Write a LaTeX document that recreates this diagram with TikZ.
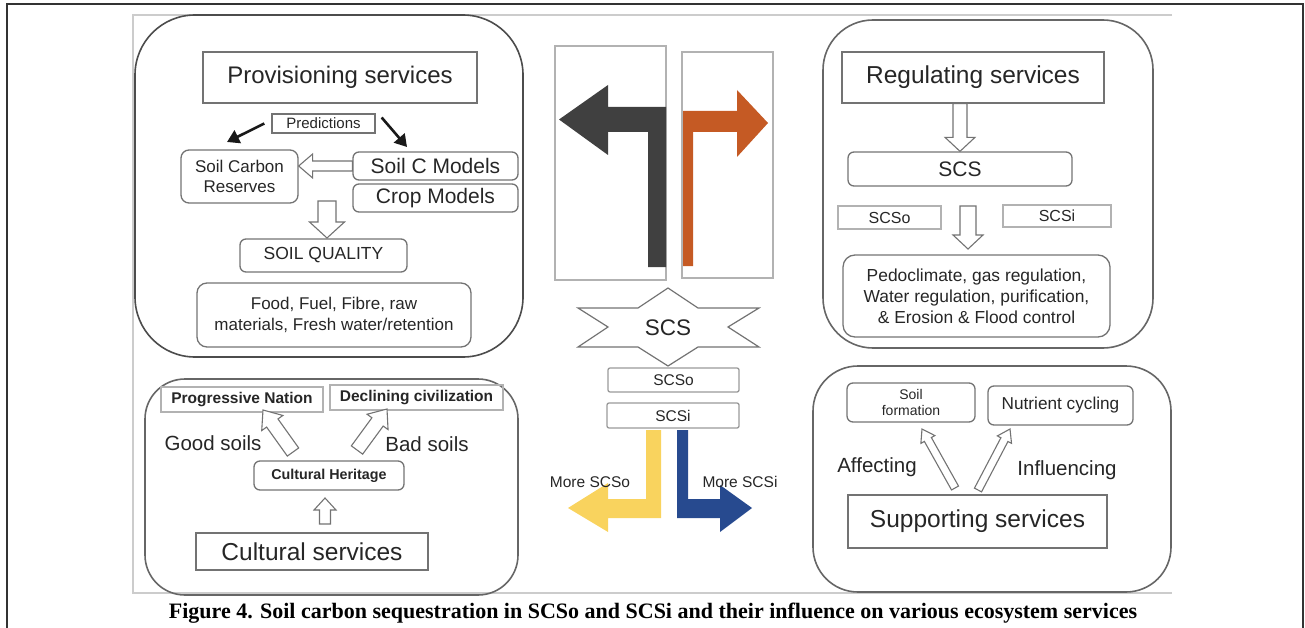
\documentclass[tikz,border=0pt]{standalone}
\usepackage{fontspec}
\setmainfont{Liberation Sans}
\newfontfamily\capfont{Liberation Serif}
\usetikzlibrary{calc,arrows.meta}
\definecolor{darkarr}{HTML}{404040}
\definecolor{orangearr}{HTML}{C55A24}
\definecolor{yellowarr}{HTML}{F9D35E}
\definecolor{bluearr}{HTML}{274A8F}
\tikzset{
	panel/.style={draw=black!60, line width=1.6pt},
	box/.style={draw=black!55, line width=1.3pt, text=black!85, align=center, inner sep=0pt},
	rbox/.style={box, rounded corners=6pt},
	lbl/.style={text=black!85, inner sep=0pt, align=center},
	hollow/.style={draw=black!55, line width=1.1pt, fill=white, line join=miter},
	blk/.style={draw=black!90, line width=2.6pt, -{Triangle[length=12pt,width=14pt]}},
}
% hollow block arrow: from, to, half shaft, half head, head length
\newcommand{\hollowarr}[5]{%
	\coordinate (ha-c) at ($(#2)!#5!(#1)$);
	\draw[hollow] ($(#1)!#3!90:(#2)$) -- ($(ha-c)!#3!-90:(#1)$) -- ($(ha-c)!#4!-90:(#1)$) -- (#2)
		-- ($(ha-c)!#4!90:(#1)$) -- ($(ha-c)!#3!90:(#1)$) -- ($(#1)!#3!-90:(#2)$) -- cycle;}
\begin{document}
\begin{tikzpicture}[x=1pt, y=-1pt]
	\useasboundingbox (0,0) rectangle (1305,628);
	\draw[black!80, line width=1.5pt] (7,628) -- (7,4) -- (1303,4) -- (1303,628);
	\draw[black!20, line width=1.5pt] (1172,15) -- (133,15) -- (133,593) -- (1172,593);
	
	% provisioning
	\draw[panel, draw=black!70, rounded corners=60pt] (135,15) rectangle (523,357);
	\node[box, minimum width=274pt, minimum height=51pt, font=\fontsize{24}{28}\selectfont] (prov) at (340,77.5) {Provisioning services};
	\node[box, minimum width=103pt, minimum height=19pt, font=\fontsize{15}{18}\selectfont] (pred) at (323.5,123.5) {Predictions};
	\node[rbox, rounded corners=8pt, minimum width=117pt, minimum height=53pt, font=\fontsize{17}{20}\selectfont] (scr) at (239.5,176.5) {Soil Carbon\\Reserves};
	\node[rbox, minimum width=165pt, minimum height=28pt, font=\fontsize{21}{24}\selectfont] (scm) at (435.5,166) {Soil C Models};
	\node[rbox, minimum width=165pt, minimum height=28pt, font=\fontsize{21}{24}\selectfont] (crop) at (435.5,198) {Crop Models};
	\node[rbox, minimum width=167pt, minimum height=33pt, font=\fontsize{17.5}{20}\selectfont] (soilq) at (323.5,255.5) {SOIL QUALITY};
	\node[rbox, rounded corners=10pt, minimum width=274pt, minimum height=64pt, font=\fontsize{17}{21}\selectfont] (food) at (334,315) {Food, Fuel, Fibre, raw\\materials, Fresh water/retention};
	\coordinate (p1) at (227,142);
	\coordinate (p2) at (407,147);
	\draw[blk] ([xshift=-7pt]pred.west) -- (p1);
	\draw[blk] ([xshift=6pt,yshift=6pt]pred.east) -- (p2);
	\hollowarr{scm.west}{scr.east |- scm.west}{5pt}{12pt}{14pt}
	\coordinate (q1) at (327,201);
	\coordinate (q2) at (327,238);
	\hollowarr{q1}{q2}{9pt}{17.5pt}{16pt}
	
	% centre
	\node[box, draw=black!30, minimum width=111pt, minimum height=234pt] (lrect) at (610.5,163) {};
	\node[box, draw=black!30, minimum width=91pt, minimum height=226pt] (rrect) at (727.5,165) {};
	\fill[darkarr] (666,267) -- (648,267) -- (648,132) -- (608,132) -- (608,155) -- (559,119.5) -- (608,85) -- (608,107) -- (666,107) -- cycle;
	\fill[orangearr] (683,266) -- (693,266) -- (693,132) -- (737,132) -- (737,157) -- (768,123) -- (737,90) -- (737,111) -- (683,111) -- cycle;
	\draw[draw=black!55, line width=1.2pt, fill=white] (668,288) -- (698,308) -- (759,308) -- (728,327) -- (759,347) -- (698,347) -- (668,366) -- (638,347) -- (578,347) -- (608,327) -- (578,308) -- (638,308) -- cycle;
	\node[lbl, font=\fontsize{22.5}{26}\selectfont] (scs) at (668,328) {SCS};
	\node[rbox, rounded corners=2pt, draw=black!40, minimum width=131pt, minimum height=24pt, font=\fontsize{15.5}{18}\selectfont] (scso) at (673.5,380) {SCSo};
	\node[rbox, rounded corners=2pt, draw=black!40, minimum width=132pt, minimum height=25pt, font=\fontsize{15.5}{18}\selectfont] (scsi) at (673,415.5) {SCSi};
	\fill[yellowarr] (646,430) -- (661,430) -- (661,518) -- (608,518) -- (608,532) -- (568,508) -- (608,483) -- (608,499) -- (646,499) -- cycle;
	\fill[bluearr] (677,430) -- (688,430) -- (688,499) -- (720,499) -- (720,485) -- (752,508) -- (720,532) -- (720,518) -- (677,518) -- cycle;
	\node[lbl, font=\fontsize{15.5}{18}\selectfont] (morso) at (590,482) {More SCSo};
	\node[lbl, font=\fontsize{15.5}{18}\selectfont] (morsi) at (740,482) {More SCSi};
	
	% regulating
	\draw[panel, rounded corners=50pt] (823,20) rectangle (1153,348);
	\node[box, minimum width=262pt, minimum height=51pt, font=\fontsize{24.5}{28}\selectfont] (reg) at (973,77.5) {Regulating services};
	\node[rbox, minimum width=224pt, minimum height=34pt, font=\fontsize{21}{24}\selectfont] (scs2) at (960,169) {SCS};
	\node[box, draw=black!30, minimum width=103pt, minimum height=23pt, font=\fontsize{16}{18}\selectfont] (scso2) at (889.5,217.5) {SCSo};
	\node[box, draw=black!30, minimum width=108pt, minimum height=22pt, font=\fontsize{16}{18}\selectfont] (scsi2) at (1057,216) {SCSi};
	\node[rbox, rounded corners=12pt, minimum width=267pt, minimum height=82pt, font=\fontsize{17.4}{21}\selectfont] (pedo) at (976.5,296) {Pedoclimate, gas regulation,\\Water regulation, purification,\\\& Erosion \& Flood control};
	\hollowarr{reg.south -| scs2.north}{scs2.north}{7pt}{15pt}{14pt}
	\coordinate (r1) at (968,206);
	\coordinate (r2) at (968,249);
	\hollowarr{r1}{r2}{8pt}{15pt}{14pt}
	
	% cultural
	\draw[panel, rounded corners=40pt] (145,379) rectangle (518,595);
	\node[box, draw=black!30, minimum width=162pt, minimum height=25pt, font=\bfseries\fontsize{15.5}{18}\selectfont] (prog) at (242,399.5) {Progressive Nation};
	\node[box, draw=black!30, minimum width=173pt, minimum height=25pt, font=\bfseries\fontsize{15.5}{18}\selectfont] (decl) at (416.5,397.5) {Declining civilization};
	\node[rbox, minimum width=150pt, minimum height=29pt, font=\bfseries\fontsize{14.3}{17}\selectfont] (herit) at (329,475.5) {Cultural Heritage};
	\node[box, minimum width=232pt, minimum height=37pt, font=\fontsize{24.5}{28}\selectfont] (cult) at (312,551.5) {Cultural services};
	\node[lbl, font=\fontsize{20.5}{24}\selectfont] (good) at (213,443) {Good soils};
	\node[lbl, font=\fontsize{20.5}{24}\selectfont] (bad) at (427,444) {Bad soils};
	\coordinate (c1) at (293,452);
	\coordinate (c2) at (263,410);
	\coordinate (c3) at (357,450);
	\coordinate (c4) at (387,409);
	\hollowarr{c1}{c2}{7pt}{13pt}{16pt}
	\hollowarr{c3}{c4}{7pt}{13pt}{16pt}
	\coordinate (c5) at (325,524);
	\coordinate (c6) at (325,498);
	\hollowarr{c5}{c6}{5.5pt}{11pt}{12pt}
	
	% supporting
	\draw[panel, rounded corners=45pt] (813,366) rectangle (1171,592);
	\node[rbox, minimum width=128pt, minimum height=39pt, font=\fontsize{14}{16}\selectfont] (sform) at (911,402.5) {Soil\\formation};
	\node[rbox, minimum width=145pt, minimum height=39pt, font=\fontsize{17.2}{20}\selectfont] (nutr) at (1060.5,405.5) {Nutrient cycling};
	\node[box, minimum width=259pt, minimum height=53pt, font=\fontsize{24.5}{28}\selectfont] (supp) at (977.5,521.5) {Supporting services};
	\node[lbl, font=\fontsize{20.5}{24}\selectfont] (aff) at (877,467) {Affecting};
	\node[lbl, font=\fontsize{20.5}{24}\selectfont] (infl) at (1067,470) {Influencing};
	\coordinate (s1) at (955,488);
	\coordinate (s2) at (922,429);
	\coordinate (s3) at (978,490);
	\coordinate (s4) at (1010,429);
	\hollowarr{s1}{s2}{4pt}{8pt}{12pt}
	\hollowarr{s3}{s4}{4pt}{8pt}{12pt}
	
	\node[font=\capfont\bfseries\fontsize{22}{26}\selectfont, inner sep=0pt] (cap) at (653,613) {Figure 4. Soil carbon sequestration in SCSo and SCSi and their influence on various ecosystem services};
\end{tikzpicture}
\end{document}
